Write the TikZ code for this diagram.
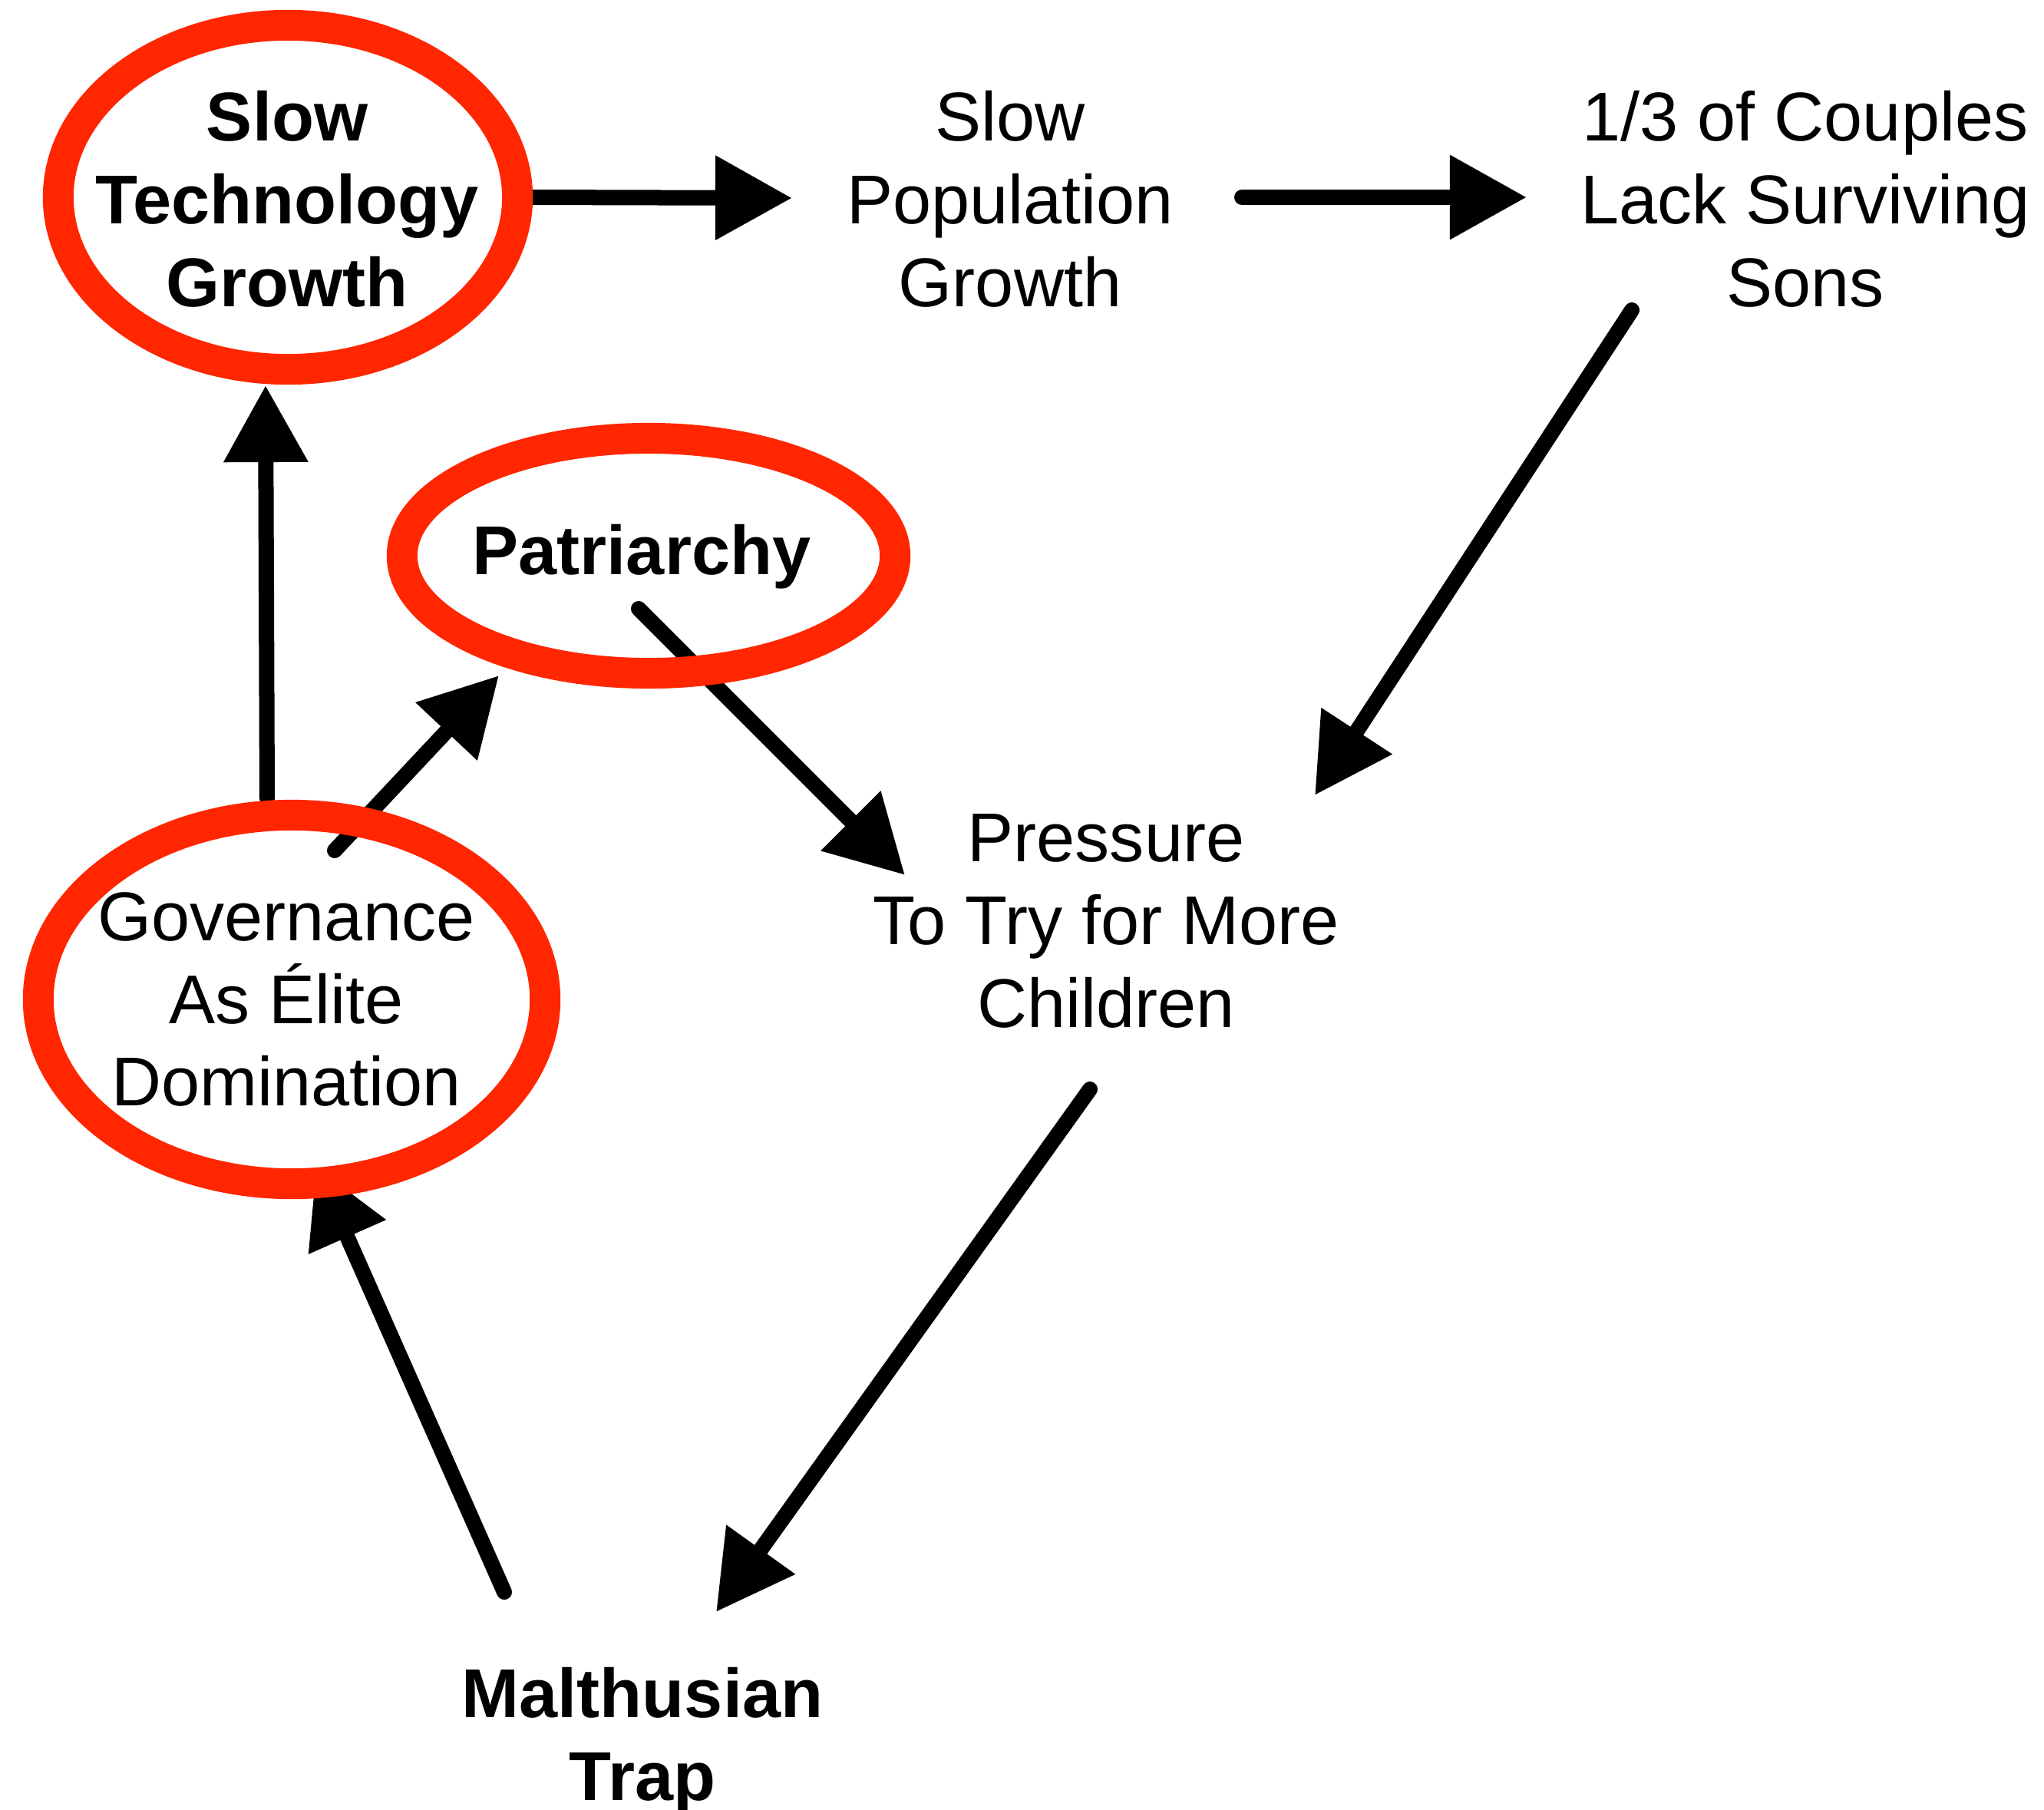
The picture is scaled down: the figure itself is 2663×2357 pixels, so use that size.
\documentclass[tikz,border=0pt]{standalone}
\usepackage{fontspec}
\setmainfont{Liberation Sans}
\usetikzlibrary{arrows.meta,shapes.geometric}
\definecolor{ringred}{RGB}{255,38,0}
\pgfdeclarelayer{bg}
\pgfsetlayers{bg,main}
\begin{document}
\begin{tikzpicture}[x=0.01cm,y=-0.01cm,
  lbl/.style={align=center,inner sep=0pt,outer sep=0pt,font=\fontsize{25.6pt}{30.7pt}\selectfont},
  blbl/.style={lbl,font=\fontsize{25.6pt}{30.7pt}\selectfont\bfseries},
  ring/.style={ellipse,draw=ringred,line width=0.4cm,inner sep=0pt,outer sep=0pt},
  link/.style={line width=0.2cm,line cap=round,-{Triangle[length=1cm,width=1.05cm]}}]
\useasboundingbox (0,0) rectangle (2663,2357);

% rings
\node[ring,minimum width=5.98cm,minimum height=4.48cm] (techring) at (375,257) {};
\node[ring,minimum width=6.42cm,minimum height=3.06cm] (patring) at (845,724) {};
\node[ring,minimum width=6.6cm,minimum height=4.8cm] (govring) at (380,1302) {};

% labels
\node[blbl] (tech) at (374,259) {Slow\\Technology\\Growth};
\node[lbl] (pop) at (1316,259) {Slow\\Population\\Growth};
\node[lbl] (couples) at (2352,259) {1/3 of Couples\\Lack Surviving\\Sons};
\node[blbl,anchor=base] (pat) at (836,748) {Patriarchy};
\node[lbl] (gov) at (373,1302) {Governance\\As Élite\\Domination};
\node[lbl] (press) at (1441,1200) {Pressure\\To Try for More\\Children};
\node[blbl] (malth) at (837,2268) {Malthusian\\Trap};

% connector end points
\coordinate (techOut) at (690,257);
\coordinate (popIn) at (1032,258);
\coordinate (popOut) at (1618,257);
\coordinate (couplesIn) at (1989,257);
\coordinate (couplesOut) at (2126,404);
\coordinate (pressInA) at (1713,1036);
\coordinate (patOut) at (832,793);
\coordinate (pressInB) at (1179,1140);
\coordinate (pressOut) at (1420,1419);
\coordinate (malthIn) at (933,2100);
\coordinate (malthOut) at (657,2074);
\coordinate (govIn) at (412,1520);
\coordinate (govOutA) at (436,1108);
\coordinate (patIn) at (650,880);
\coordinate (govOutB) at (348,1040);
\coordinate (techIn) at (346,502);

\begin{pgfonlayer}{bg}
\fill[white] (0,0) rectangle (2663,2357);
\draw[link] (techOut) -- (popIn);
\draw[link] (popOut) -- (couplesIn);
\draw[link] (couplesOut) -- (pressInA);
\draw[link] (patOut) -- (pressInB);
\draw[link] (pressOut) -- (malthIn);
\draw[link] (malthOut) -- (govIn);
\draw[link] (govOutA) -- (patIn);
\draw[link] (govOutB) -- (techIn);
\end{pgfonlayer}
\end{tikzpicture}
\end{document}
